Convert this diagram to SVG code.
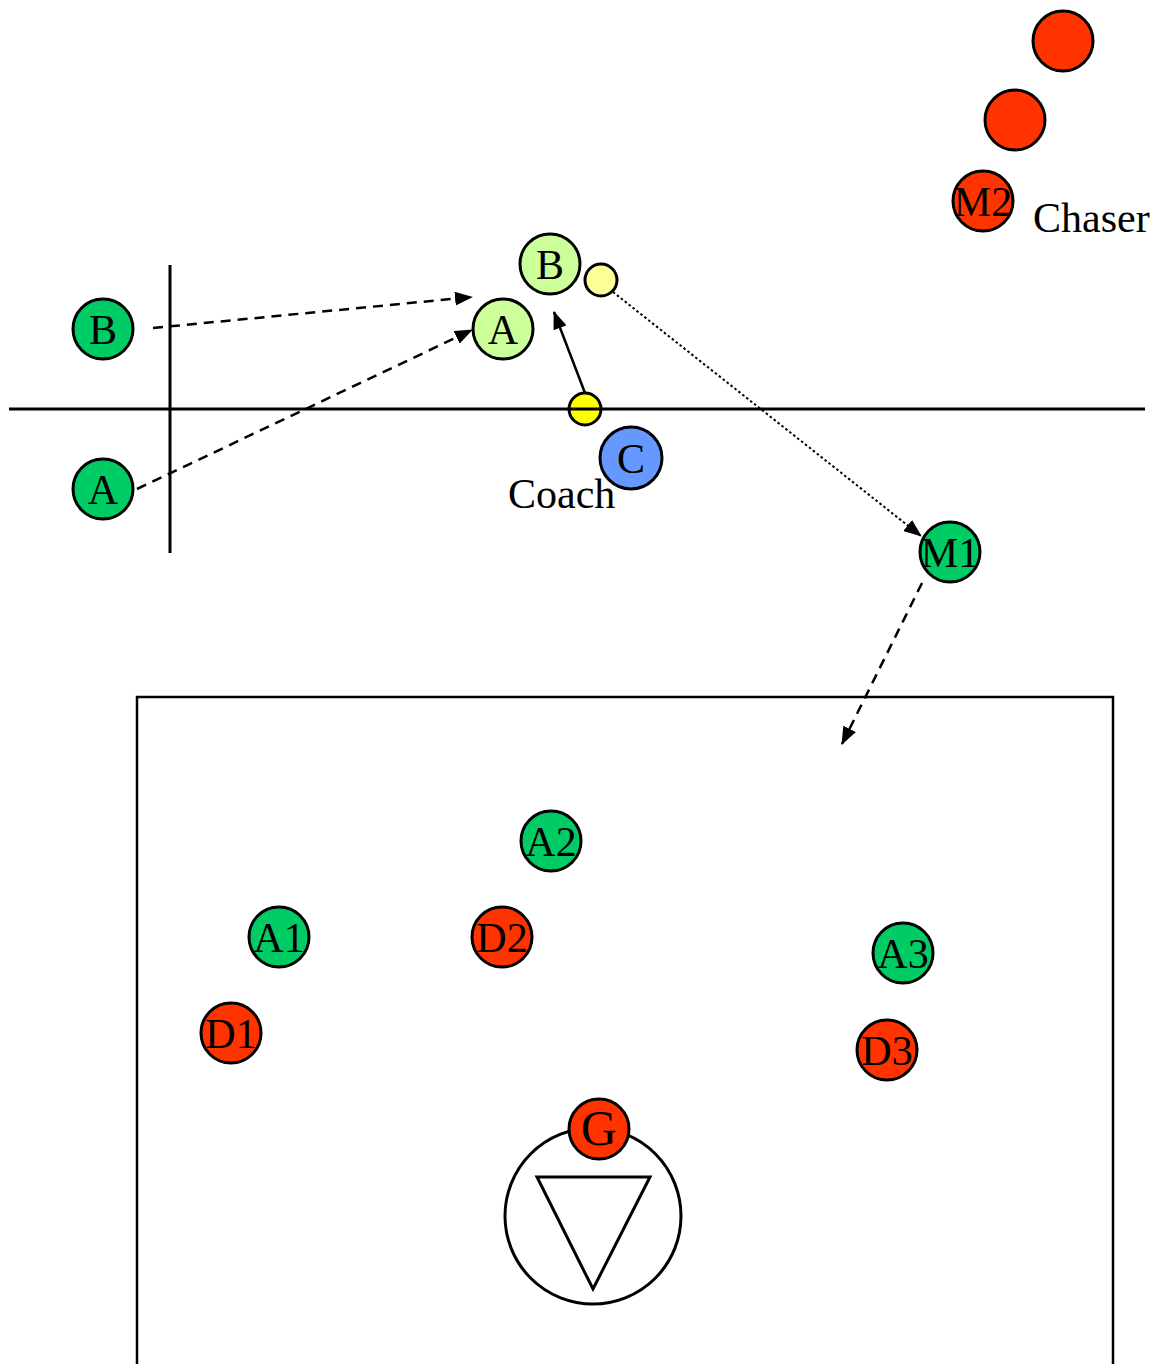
<svg xmlns="http://www.w3.org/2000/svg" width="1157" height="1364" viewBox="0 0 1157 1364">
<style>
.n{stroke:#000;stroke-width:3}
.g{fill:#00CC66}.lg{fill:#CCFF99}.r{fill:#FF3300}.y{fill:#FFFF00}.ly{fill:#FFFF99}.b{fill:#6699FF}
text{font-family:"Liberation Serif","Times New Roman",serif;font-size:42px;fill:#000}
.t{text-anchor:middle}
.ln{stroke:#000;stroke-width:3;fill:none}
.c{stroke:#000;stroke-width:2.5;fill:none}
.d{stroke-dasharray:10 7}
.o{stroke-dasharray:2.5 2.5;stroke-width:2}
</style>
<defs>
<marker id="ah" markerUnits="userSpaceOnUse" markerWidth="18" markerHeight="14" refX="17" refY="7" orient="auto">
<path d="M0,0 L18,7 L0,14 Z" fill="#000"/>
</marker>
</defs>
<g id="field">
<line class="ln" x1="9" y1="409" x2="1145" y2="409"/>
<line class="ln" x1="170" y1="265" x2="170" y2="553"/>
<rect x="137" y="697" width="976" height="700" fill="none" stroke="#000" stroke-width="2.5"/>
<circle cx="593" cy="1216" r="88" fill="#fff" stroke="#000" stroke-width="3"/>
<polygon points="537,1177 650,1177 593,1289" fill="#fff" stroke="#000" stroke-width="3"/>
</g>
<g id="connectors">
<line class="c d" x1="153" y1="328" x2="472" y2="297" marker-end="url(#ah)"/>
<line class="c d" x1="137" y1="489" x2="472" y2="330" marker-end="url(#ah)"/>
<line class="c" x1="585" y1="393" x2="554" y2="312" marker-end="url(#ah)"/>
<line class="c o" x1="613" y1="292" x2="921" y2="536" marker-end="url(#ah)"/>
<line class="c d" x1="922" y1="583" x2="842" y2="744" marker-end="url(#ah)"/>
</g>
<g id="chaser1"><circle class="n r" cx="1063" cy="41" r="30"/></g>
<g id="chaser2"><circle class="n r" cx="1015" cy="120" r="30"/></g>
<g id="M2"><circle class="n r" cx="983" cy="201" r="30"/><text class="t" x="983" y="216">M2</text></g>
<g id="chaser-label"><text x="1033" y="232">Chaser</text></g>
<g id="B-left"><circle class="n g" cx="103" cy="329" r="30"/><text class="t" x="103" y="344">B</text></g>
<g id="A-left"><circle class="n g" cx="103" cy="489" r="30"/><text class="t" x="103" y="504">A</text></g>
<g id="B-mid"><circle class="n lg" cx="550" cy="264" r="30"/><text class="t" x="550" y="279">B</text></g>
<g id="ball-light"><circle class="n ly" cx="601" cy="280" r="16"/></g>
<g id="A-mid"><circle class="n lg" cx="503" cy="329" r="30"/><text class="t" x="503" y="344">A</text></g>
<g id="ball"><circle class="n y" cx="585" cy="409" r="16"/><line x1="569" y1="409" x2="601" y2="409" stroke="#000" stroke-width="3"/></g>
<g id="C"><circle class="n b" cx="631" cy="458" r="31"/><text class="t" x="631" y="473">C</text></g>
<g id="coach-label"><text x="508" y="508">Coach</text></g>
<g id="M1"><circle class="n g" cx="950" cy="552" r="30"/><text class="t" x="950" y="567">M1</text></g>
<g id="A2"><circle class="n g" cx="551" cy="841" r="30"/><text class="t" x="551" y="856">A2</text></g>
<g id="A1"><circle class="n g" cx="279" cy="937" r="30"/><text class="t" x="279" y="952">A1</text></g>
<g id="D2"><circle class="n r" cx="502" cy="937" r="30"/><text class="t" x="502" y="952">D2</text></g>
<g id="A3"><circle class="n g" cx="903" cy="953" r="30"/><text class="t" x="903" y="968">A3</text></g>
<g id="D1"><circle class="n r" cx="231" cy="1033" r="30"/><text class="t" x="231" y="1048">D1</text></g>
<g id="D3"><circle class="n r" cx="887" cy="1050" r="30"/><text class="t" x="887" y="1065">D3</text></g>
<g id="G"><circle class="n r" cx="599" cy="1129" r="30"/><text class="t" x="599" y="1145" style="font-size:50px">G</text></g>
</svg>
